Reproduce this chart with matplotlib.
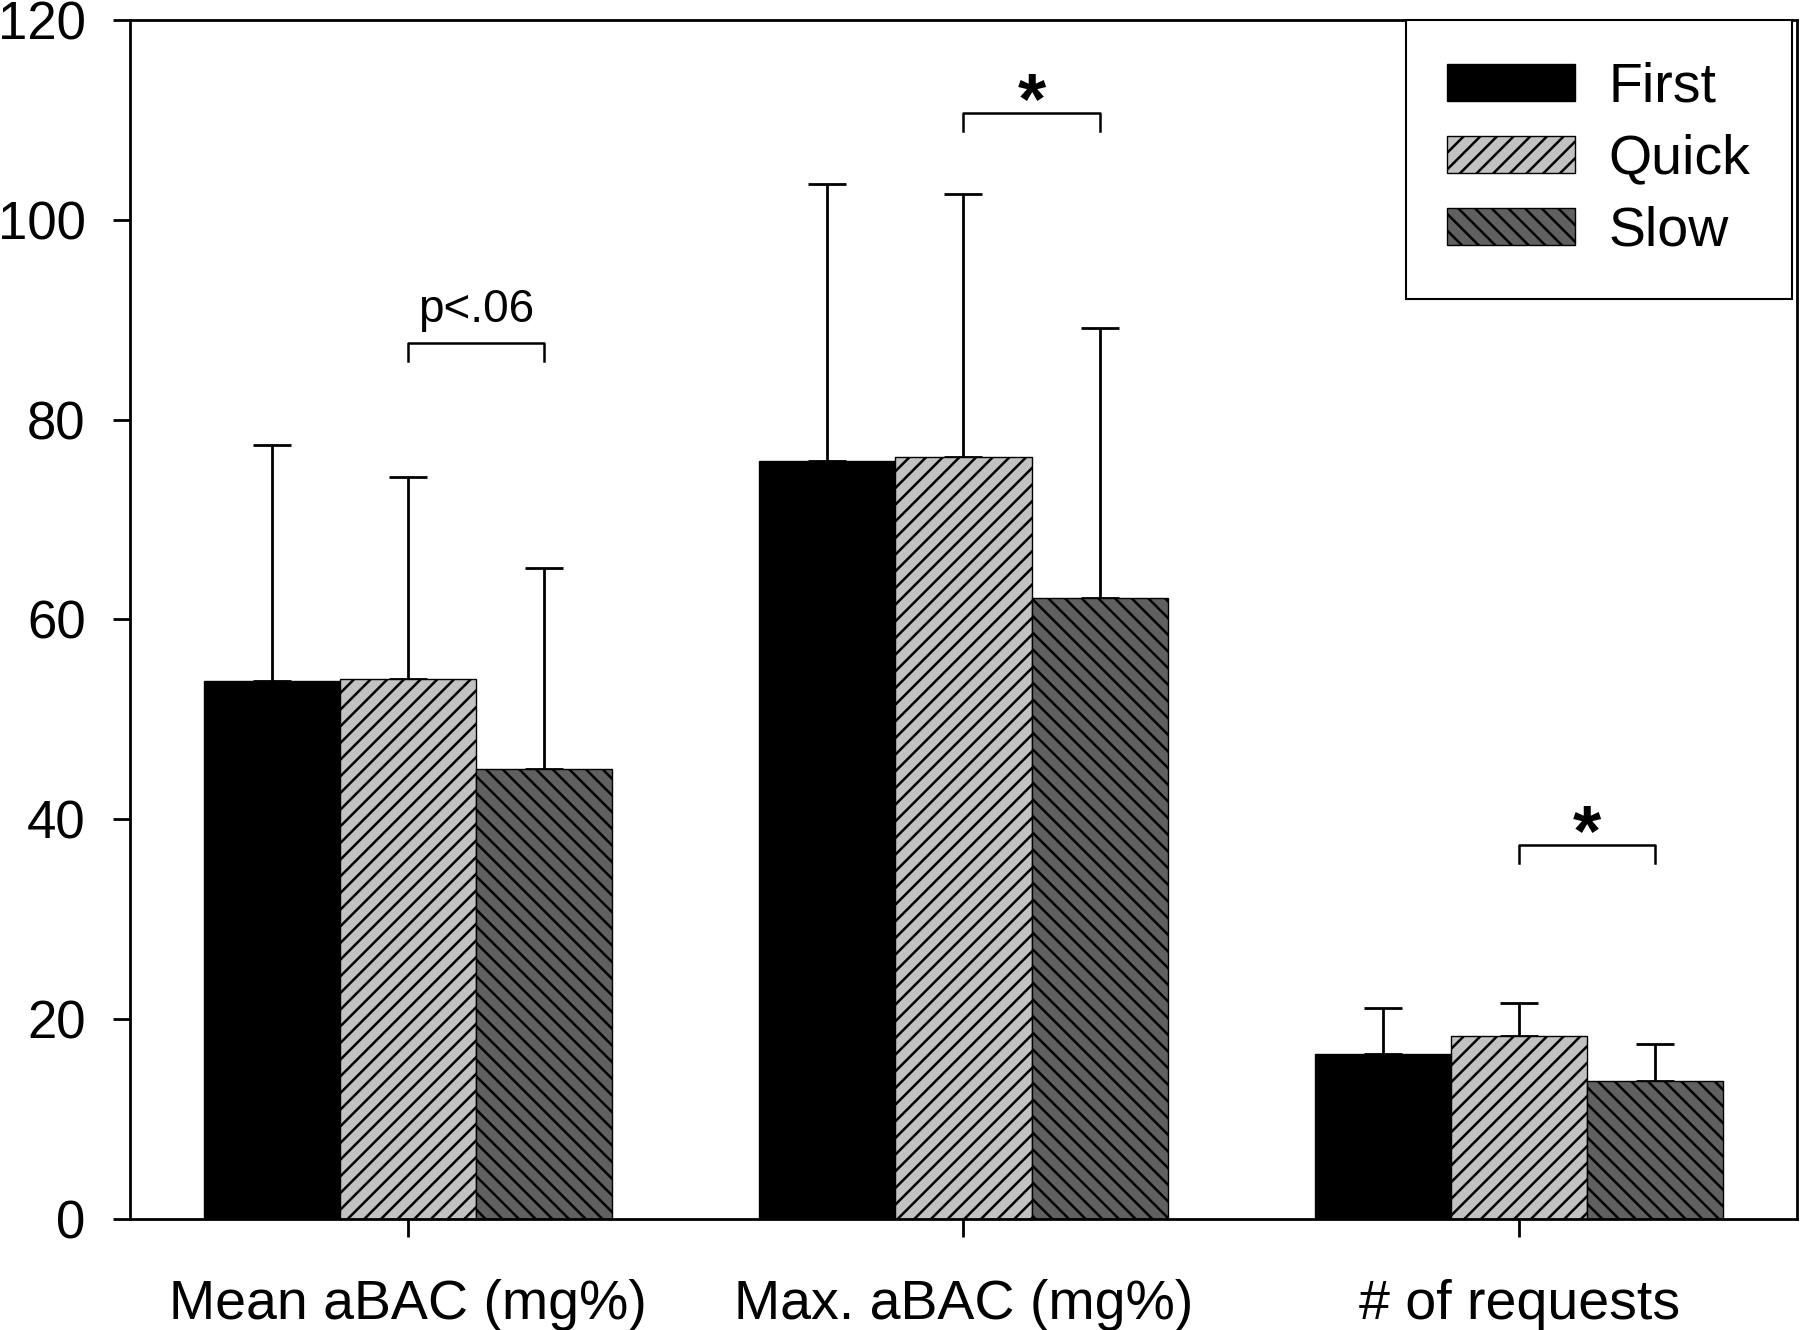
import matplotlib
matplotlib.use("Agg")
import matplotlib.pyplot as plt
import numpy as np

plt.rcParams['font.family'] = ['Liberation Sans', 'DejaVu Sans']
plt.rcParams['hatch.linewidth'] = 1.8

# data
groups = ['Mean aBAC (mg%)', 'Max. aBAC (mg%)', '# of requests']
conditions = ['First', 'Quick', 'Slow']
first_mean = [53.8, 75.9, 16.5]
quick_mean = [54.0, 76.3, 18.3]
slow_mean = [45.0, 62.1, 13.8]
first_err = [23.7, 27.7, 4.6]
quick_err = [20.3, 26.3, 3.3]
slow_err = [20.1, 27.1, 3.7]
y_ticks = [0, 20, 40, 60, 80, 100, 120]

means = [first_mean, quick_mean, slow_mean]
errs = [first_err, quick_err, slow_err]
fills = ['black', '#c2c2c2', '#606060']
hatches = [None, '//', '\\\\']

fig = plt.figure(figsize=(18, 13.3), dpi=100)
ax = fig.add_axes([0.0722, 0.0835, 0.9261, 0.9015])

x = np.arange(1, len(groups) + 1)
w = 0.245
for i, (m, e) in enumerate(zip(means, errs)):
    pos = x + (i - 1) * w
    ax.bar(pos, m, width=w, color=fills[i], edgecolor='black', linewidth=1.0,
           hatch=hatches[i], label=conditions[i], zorder=2)
    ax.errorbar(pos, m, yerr=[np.zeros(len(m)), e], fmt='none', ecolor='black',
                elinewidth=2.0, capsize=13.5, capthick=2.0, zorder=1)

# significance brackets: (group index, y of bracket, text)
brackets = [(0, 87.7, 'p<.06'), (1, 110.7, '*'), (2, 37.4, '*')]
for g, yb, txt in brackets:
    x0, x1 = x[g], x[g] + w
    ax.plot([x0, x0, x1, x1], [yb - 1.8, yb, yb, yb - 1.8], color='black',
            linewidth=1.8, zorder=3)
    if txt == '*':
        ax.text((x0 + x1) / 2, yb - 1.0, txt, ha='center', va='baseline',
                fontsize=52, fontweight='bold')
    else:
        ax.text((x0 + x1) / 2, yb + 2.1, txt, ha='center', va='baseline',
                fontsize=33)

ax.set_xlim(0.5, 3.5)
ax.set_ylim(0, 120)
ax.set_yticks(y_ticks)
ax.set_xticks(x)
ax.set_xticklabels(groups)
for s in ax.spines.values():
    s.set_linewidth(2.0)
ax.tick_params(axis='y', direction='out', length=12, width=2.0, pad=20,
               labelsize=38, left=True, right=False)
ax.tick_params(axis='x', direction='out', length=13, width=2.0, pad=30,
               labelsize=40, bottom=True, top=False)

leg = ax.legend(loc='upper right', bbox_to_anchor=(0.997, 1.0), borderaxespad=0,
                fontsize=40, frameon=True, fancybox=False, edgecolor='black',
                framealpha=1, handlelength=2.3, handleheight=0.65,
                handletextpad=0.6, labelspacing=0.36, borderpad=0.75)
leg.get_frame().set_linewidth(1.5)

fig.savefig('out.png', dpi=100)
